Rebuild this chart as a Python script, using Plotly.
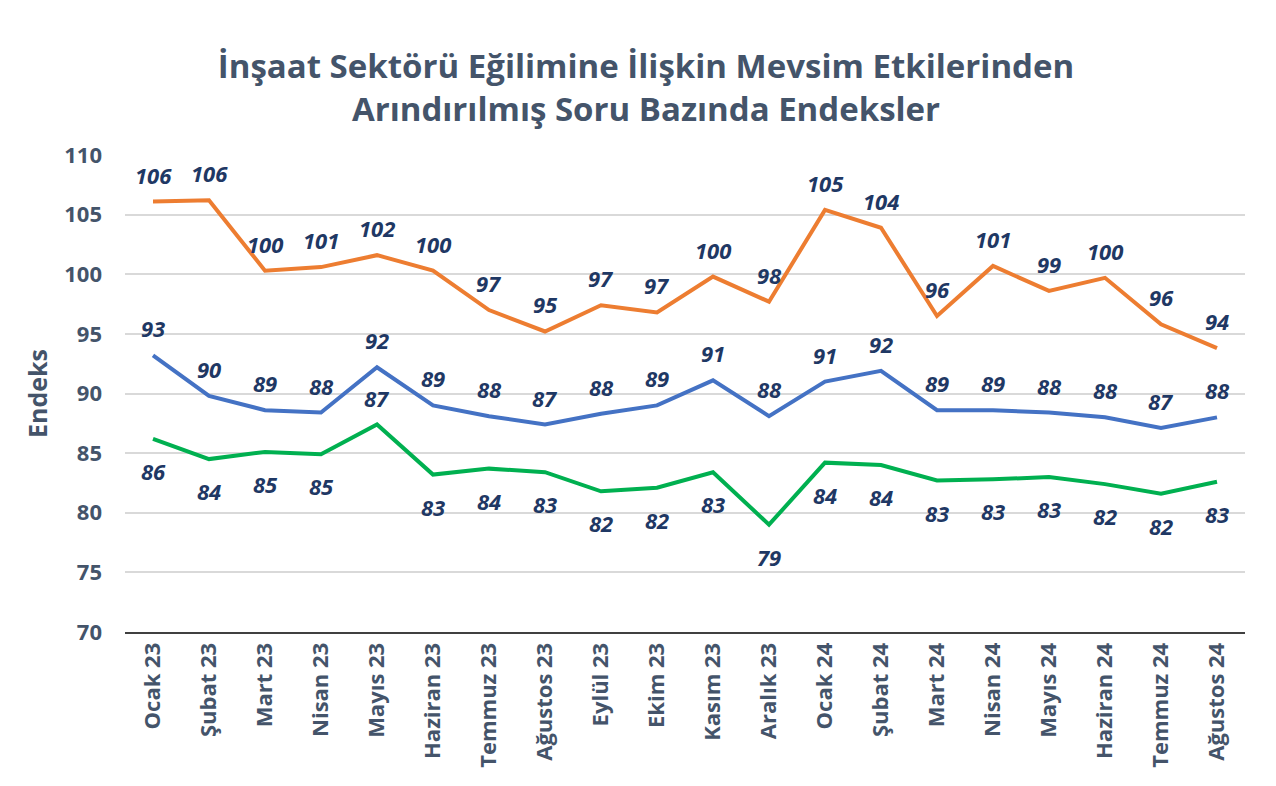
import plotly.graph_objects as go

months = ["Ocak 23", "Şubat 23", "Mart 23", "Nisan 23", "Mayıs 23", "Haziran 23", "Temmuz 23",
          "Ağustos 23", "Eylül 23", "Ekim 23", "Kasım 23", "Aralık 23", "Ocak 24", "Şubat 24",
          "Mart 24", "Nisan 24", "Mayıs 24", "Haziran 24", "Temmuz 24", "Ağustos 24"]

orange_vals = [106.1, 106.2, 100.3, 100.6, 101.6, 100.3, 97.0, 95.2, 97.4, 96.8, 99.8, 97.7,
               105.4, 103.9, 96.5, 100.7, 98.6, 99.7, 95.8, 93.8]
blue_vals = [93.2, 89.8, 88.6, 88.4, 92.2, 89.0, 88.1, 87.4, 88.3, 89.0, 91.1, 88.1,
             91.0, 91.9, 88.6, 88.6, 88.4, 88.0, 87.1, 88.0]
green_vals = [86.2, 84.5, 85.1, 84.9, 87.4, 83.2, 83.7, 83.4, 81.8, 82.1, 83.4, 79.0,
              84.2, 84.0, 82.7, 82.8, 83.0, 82.4, 81.6, 82.6]

# label placement: 1 = above, -1 = below
green_side = [-1, -1, -1, -1, 1, -1, -1, -1, -1, -1, -1, -1, -1, -1, -1, -1, -1, -1, -1, -1]

title_color = "#44546A"
label_color = "#1F3864"
font_family = "'Open Sans', Lato, sans-serif"

fig = go.Figure()
series = [
    ("orange", orange_vals, "#ED7D31", [1] * len(months)),
    ("blue", blue_vals, "#4472C4", [1] * len(months)),
    ("green", green_vals, "#00B050", green_side),
]

annotations = []
for name, vals, color, sides in series:
    fig.add_trace(go.Scatter(x=months, y=vals, mode="lines", name=name,
                             line=dict(color=color, width=4), showlegend=False))
    for m, v, s in zip(months, vals, sides):
        annotations.append(dict(
            x=m, y=v, xref="x", yref="y", text=f"{round(v):.0f}", showarrow=False,
            yshift=27 if s > 0 else -32,
            font=dict(family=font_family, size=22, color=label_color, style="italic", weight="bold"),
        ))

fig.update_layout(
    width=1276, height=786,
    margin=dict(l=117, r=39, t=147, b=162, autoexpand=False),
    paper_bgcolor="white", plot_bgcolor="white",
    title=dict(
        text="İnşaat Sektörü Eğilimine İlişkin Mevsim Etkilerinden<br>Arındırılmış Soru Bazında Endeksler",
        x=0.5, xanchor="center", y=0.911, yanchor="top",
        font=dict(family=font_family, size=33, color=title_color, weight="bold"),
    ),
    annotations=annotations,
    xaxis=dict(
        type="category", range=[-0.5, len(months) - 0.5], automargin=False,
        tickangle=-90, showgrid=False,
        showline=True, linecolor="#404040", linewidth=2,
        ticks="", tickfont=dict(family=font_family, size=22, color=title_color, weight="bold"),
    ),
    yaxis=dict(
        range=[70, 110], dtick=5, tick0=70, automargin=False,
        showgrid=True, gridcolor="#D9D9D9", gridwidth=1.5,
        zeroline=False, showline=False, ticks="", ticklabelstandoff=22,
        tickfont=dict(family=font_family, size=22, color=title_color, weight="bold"),
        title=dict(text="Endeks", standoff=9,
                   font=dict(family=font_family, size=25, color=title_color, weight="bold")),
    ),
)

fig.write_html("out.html")
